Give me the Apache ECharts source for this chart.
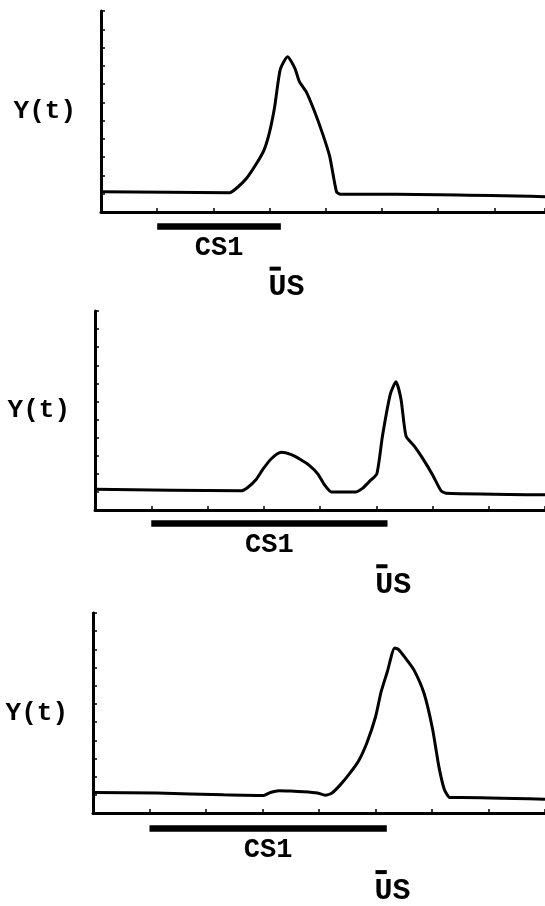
<!DOCTYPE html>
<html>
<head>
<meta charset="utf-8">
<script src="https://cdn.jsdelivr.net/npm/echarts@6/dist/echarts.min.js"></script>
<style>
  html, body { margin: 0; padding: 0; background: #fff; }
  #chart { width: 545px; height: 906px; }
</style>
</head>
<body>
<div id="chart"></div>
<script>
// Response Y(t) over trial time for three conditioning trials.
// Trial 1: short CS1 with US at its end.
const t1 = [0, 2.29, 2.41, 2.59, 2.77, 2.90, 3.00, 3.09, 3.19, 3.32, 3.45, 3.53, 3.65, 3.80, 3.95, 4.07, 4.19, 4.26, 5.25, 7.9];
const y1 = [1.11, 1.06, 1.30, 1.85, 2.67, 3.39, 4.39, 5.76, 7.81, 8.50, 7.86, 7.13, 6.59, 5.50, 4.22, 3.03, 1.11, 0.97, 0.97, 0.84];

// Trial 2: long CS1, early bump then response at US.
const t2 = [0, 2.60, 2.72, 2.86, 2.98, 3.13, 3.31, 3.49, 3.66, 3.81, 3.96, 4.08, 4.20, 4.64, 4.76, 4.88, 5.01, 5.11, 5.25, 5.35, 5.44, 5.53, 5.68, 5.82, 6.00, 6.15, 6.24, 8.0];
const y2 = [1.15, 1.06, 1.26, 1.67, 2.23, 2.82, 3.19, 3.06, 2.78, 2.47, 2.00, 1.39, 1.00, 1.00, 1.21, 1.58, 2.00, 4.08, 6.40, 7.09, 6.12, 4.08, 3.52, 2.88, 1.95, 1.07, 0.93, 0.84];

// Trial 3: long CS1, response concentrated at US.
const t3 = [0, 1.13, 2.31, 3.02, 3.14, 3.29, 3.49, 3.73, 3.97, 4.11, 4.23, 4.38, 4.53, 4.70, 4.85, 5.00, 5.10, 5.21, 5.34, 5.41, 5.53, 5.68, 5.86, 6.01, 6.12, 6.22, 6.32, 6.51, 8.0];
const y3 = [1.13, 1.10, 1.00, 0.96, 1.13, 1.23, 1.21, 1.17, 1.10, 0.98, 1.10, 1.56, 2.12, 2.86, 3.88, 5.28, 6.67, 7.78, 9.08, 8.99, 8.52, 7.87, 6.57, 4.62, 2.58, 1.28, 0.85, 0.85, 0.76];

// Stimulus timing per trial
const cs1On  = [1.0, 1.0, 1.0];
const cs1Off = [3.2, 5.2, 5.2];
const usOn   = [3.0, 5.0, 5.0];
const usOff  = [3.2, 5.2, 5.2];

// Axis extents
const tMax = [7.9, 8, 8];
const yMax = 11;

const yLabel = 'Y(t)';
const cs1Label = 'CS1';
const usLabel = 'US';

// Layout
const grids = [
  { left: 101, top: 11,  right: 0, height: 201 },
  { left: 95,  top: 311, right: 0, height: 199 },
  { left: 93,  top: 613, right: 0, height: 200 }
];
const CS1_LEVEL = [-0.79, -0.75, -0.85];
const US_LEVEL  = [-3.10, -3.11, -3.25];
const FONT = '"Liberation Mono", "DejaVu Sans Mono", monospace';
const INK = '#000';

const traces = [[t1, y1], [t2, y2], [t3, y3]];

const xAxes = [], yAxes = [], series = [];
traces.forEach(([t, y], i) => {
  xAxes.push({
    type: 'value', gridIndex: i, min: 0, max: tMax[i], interval: 1,
    axisLine: { show: true, lineStyle: { color: INK, width: 3 } },
    axisTick: { show: true, inside: true, length: 4, lineStyle: { color: INK, width: 1.5 } },
    axisLabel: { show: false },
    splitLine: { show: false }
  });
  yAxes.push({
    type: 'value', gridIndex: i, min: 0, max: yMax, interval: 1,
    name: yLabel, nameLocation: 'middle', nameRotate: 0, nameGap: 25,
    nameTextStyle: {
      fontFamily: FONT, fontWeight: 'bold', fontSize: 26, color: INK,
      align: 'right', verticalAlign: 'middle', padding: [0, 0, 15, 0]
    },
    axisLine: { show: true, lineStyle: { color: INK, width: 3 } },
    axisTick: { show: true, inside: true, length: 4, lineStyle: { color: INK, width: 1.5 } },
    axisLabel: { show: false },
    splitLine: { show: false }
  });
  series.push({
    type: 'line', xAxisIndex: i, yAxisIndex: i,
    data: t.map((v, k) => [v, y[k]]),
    showSymbol: false, symbol: 'none', smooth: 0.2,
    lineStyle: { color: INK, width: 3 },
    silent: true, animation: false
  });
  series.push({
    type: 'line', xAxisIndex: i, yAxisIndex: i, clip: false,
    data: [[cs1On[i], CS1_LEVEL[i]], [cs1Off[i], CS1_LEVEL[i]]],
    symbol: 'none', lineStyle: { color: INK, width: 6.5, cap: 'butt' },
    silent: true, animation: false
  });
  series.push({
    type: 'line', xAxisIndex: i, yAxisIndex: i, clip: false,
    data: [[usOn[i], US_LEVEL[i]], [usOff[i], US_LEVEL[i]]],
    symbol: 'none', lineStyle: { color: INK, width: 4, cap: 'butt' },
    silent: true, animation: false
  });
});

const chart = echarts.init(document.getElementById('chart'), null, { renderer: 'canvas' });
chart.setOption({
  backgroundColor: '#fff',
  animation: false,
  grid: grids,
  xAxis: xAxes,
  yAxis: yAxes,
  series: series
});

// Stimulus labels placed under their bars
const graphics = [];
traces.forEach((_, i) => {
  const mid = chart.convertToPixel({ gridIndex: i }, [(cs1On[i] + cs1Off[i]) / 2, CS1_LEVEL[i]]);
  graphics.push({
    type: 'text', x: mid[0], y: mid[1] + 22, silent: true,
    style: { text: cs1Label, fontFamily: FONT, fontWeight: 'bold', fontSize: 27,
             fill: INK, align: 'center', verticalAlign: 'middle' }
  });
  const us = chart.convertToPixel({ gridIndex: i }, [usOn[i], US_LEVEL[i]]);
  graphics.push({
    type: 'text', x: us[0] - 1, y: us[1] + 19, silent: true,
    style: { text: usLabel, fontFamily: FONT, fontWeight: 'bold', fontSize: 30,
             fill: INK, align: 'left', verticalAlign: 'middle' }
  });
});
chart.setOption({ graphic: graphics });
</script>
</body>
</html>
